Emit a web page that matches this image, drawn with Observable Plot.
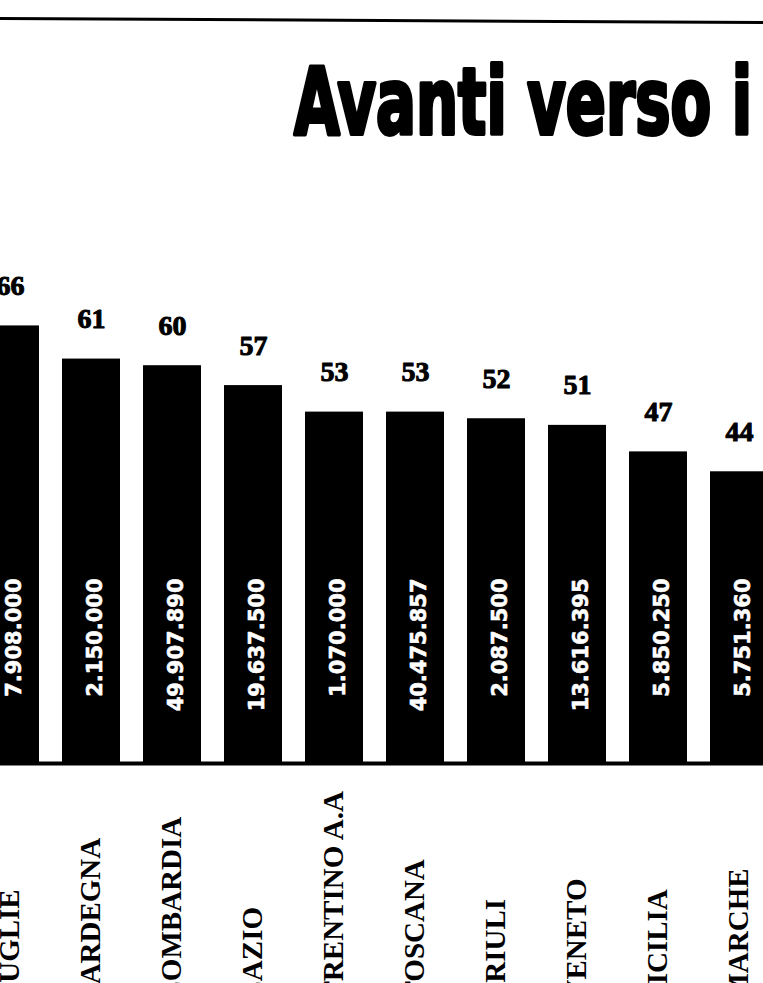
<!DOCTYPE html>
<html><head><meta charset="utf-8">
<script src="https://cdn.jsdelivr.net/npm/d3@7"></script>
<script src="https://cdn.jsdelivr.net/npm/@observablehq/plot@0.6"></script>
<style>
html,body{margin:0;padding:0;background:#fff;}
#wrap{position:relative;width:763px;height:983px;overflow:hidden;background:#fff;}
#wrap svg{display:block;max-width:none;}
#overlay{position:absolute;left:0;top:0;pointer-events:none;background:transparent !important;}
g[aria-label="importi"] text{letter-spacing:2.4px;}
</style></head><body>
<div id="wrap"></div>
<script>
const titleText = "Avanti verso i";
const regioni = ["PUGLIE","SARDEGNA","LOMBARDIA","LAZIO","TRENTINO A.A","TOSCANA","FRIULI","VENETO","SICILIA","MARCHE"];
const percentuali = [66,61,60,57,53,53,52,51,47,44];
const importi = [7908000,2150000,49907890,19637500,1070000,40475857,2087500,13616395,5850250,5751360];

const itLocale = d3.formatLocale({decimal: ",", thousands: ".", grouping: [3], currency: ["", " €"]});
const fmt = itLocale.format(",d");
const data = regioni.map((r, i) => ({regione: r, pct: percentuali[i], importo: fmt(importi[i])}));

const W = 763, H = 983, base = 763, unit = 6.63;

const chart = Plot.plot({
  width: W, height: H,
  marginTop: 0, marginRight: 0, marginBottom: 0, marginLeft: 0,
  style: {background: "white", overflow: "hidden"},
  x: {domain: regioni, range: [-34.4, 783.7], paddingInner: 0.28, paddingOuter: 0.14, axis: null},
  y: {domain: [0, 66], range: [base, base - 66 * unit], axis: null},
  marks: [
    Plot.barY(data, {x: "regione", y: "pct", fill: "black"}),
    Plot.ruleY([0], {stroke: "black", strokeWidth: 4}),
    Plot.text(data, {
      x: "regione", y: "pct", text: d => String(d.pct),
      lineAnchor: "bottom", dy: -31,
      fontSize: 28, fontWeight: "bold",
      fontFamily: "'Liberation Serif', 'DejaVu Serif', serif",
      fill: "black", stroke: "black", strokeWidth: 1
    }),
    Plot.text(data, {
      x: "regione", y: () => 0, text: "importo",
      rotate: -90, textAnchor: "end", lineAnchor: "middle",
      dy: -185, dx: 4,
      fontSize: 21, fontWeight: "bold",
      fontFamily: "'DejaVu Sans', sans-serif",
      fill: "white", stroke: "white", strokeWidth: 0.6,
      ariaLabel: "importi"
    }),
    Plot.text(data, {
      x: "regione", y: () => 0, text: "regione",
      rotate: -90, textAnchor: "start", lineAnchor: "middle",
      dy: 237, dx: -1,
      fontSize: 29, fontWeight: "bold",
      fontFamily: "'Liberation Serif', 'DejaVu Serif', serif", fill: "black"
    })
  ]
});

const wrap = document.getElementById("wrap");
wrap.appendChild(chart);

const ov = d3.create("svg").attr("id", "overlay").attr("width", W).attr("height", 200);
ov.append("line")
  .attr("x1", 0).attr("y1", 18.5).attr("x2", W).attr("y2", 22.5)
  .attr("stroke", "black").attr("stroke-width", 3);
ov.append("text")
  .attr("x", 294).attr("y", 134)
  .attr("textLength", 458).attr("lengthAdjust", "spacingAndGlyphs")
  .attr("font-family", "'DejaVu Sans Condensed', 'DejaVu Sans', sans-serif")
  .attr("font-weight", "bold").attr("font-size", 92).attr("fill", "black")
  .attr("stroke", "black").attr("stroke-width", 4).attr("stroke-linejoin", "round")
  .text(titleText);
wrap.appendChild(ov.node());
</script>
</body></html>
